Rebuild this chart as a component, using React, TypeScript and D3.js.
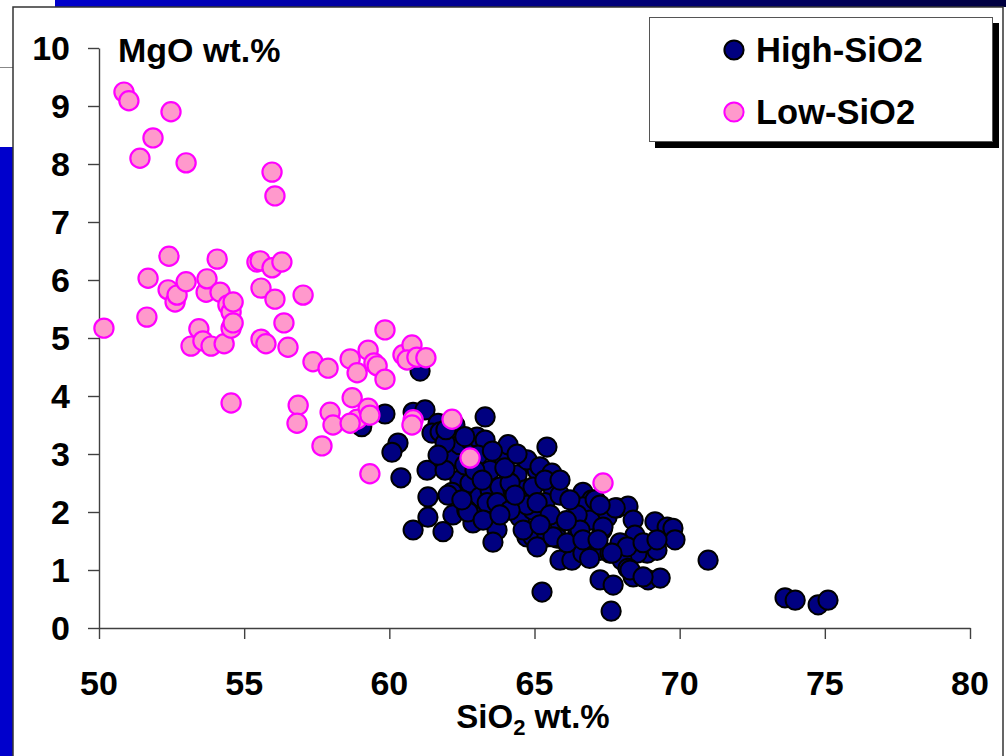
import React, { useEffect, useRef } from 'react';
import * as d3 from 'd3';

// SiO2 wt.%, MgO wt.%
const highSiO2: [number, number][] = [
  [59.05, 3.47], [61.06, 4.43], [59.85, 3.69], [60.82, 3.72], [61.23, 3.76], [61.68, 3.53], [61.47, 3.36],
  [61.75, 3.38], [63.3, 3.64], [60.3, 3.19], [60.09, 3.03], [60.4, 2.59], [61.3, 2.72], [62.16, 2.95],
  [62.43, 3.16], [62.78, 3.24], [63.02, 3.29], [63.3, 3.24], [63.88, 2.98], [63.47, 2.72], [64.75, 2.86],
  [65.09, 2.72], [64.4, 2.64], [64.09, 2.52], [62.43, 2.55], [62.78, 2.5], [62.16, 2.34], [62.02, 2.29],
  [61.33, 2.26], [63.12, 2.26], [63.47, 2.38], [63.81, 2.43], [61.33, 1.91], [62.19, 1.95], [62.67, 2.03],
  [63.12, 1.91], [60.82, 1.69], [61.85, 1.66], [62.88, 1.81], [63.71, 1.69], [63.57, 1.48], [64.26, 2.38],
  [64.61, 2.16], [64.5, 1.91], [64.95, 2.03], [64.74, 1.57], [65.02, 1.69],
  [65.43, 3.12], [64.74, 2.9], [65.19, 2.78], [65.6, 2.67], [64.68, 2.38], [65.64, 2.41], [65.36, 2.16],
  [64.74, 2.12], [66.67, 2.34], [66.98, 2.21], [65.88, 1.81], [66.5, 1.66], [66.67, 2.09], [64.95, 1.57],
  [65.43, 1.57], [65.78, 1.55], [65.09, 1.4], [65.88, 1.17], [66.29, 1.17], [66.67, 1.29], [67.33, 1.69],
  [67.5, 1.91], [67.84, 2.07], [68.22, 2.1], [67.26, 1.34], [67.6, 1.29], [68.4, 1.86], [68.46, 1.6],
  [69.15, 1.83], [69.57, 1.74], [69.77, 1.72], [69.84, 1.52], [68.88, 1.29], [69.22, 1.34], [68.53, 1.29],
  [67.95, 1.47], [68.02, 1.17], [68.22, 1.03], [68.4, 0.88], [68.91, 0.83], [69.33, 0.86], [67.26, 0.83],
  [67.71, 0.74], [65.26, 0.62], [67.64, 0.29], [66.91, 1.86], [67.36, 1.74], [70.98, 1.17], [73.63, 0.52],
  [73.98, 0.48], [74.77, 0.4], [75.11, 0.48],
  [64.16, 2.5], [64.95, 2.43], [67.09, 2.21], [67.78, 2.07], [62.71, 2.0], [63.37, 2.16], [63.71, 2.16],
  [64.16, 2.03], [65.09, 2.16], [66.47, 1.95], [63.23, 1.86], [64.61, 1.69], [65.64, 1.57], [66.12, 1.47],
  [66.57, 1.69], [66.67, 1.52], [67.19, 1.52], [68.19, 1.4], [68.74, 1.47], [69.22, 1.52], [67.67, 1.29],
  [68.29, 1.0], [68.74, 0.88],
  [62.26, 3.5], [61.92, 3.19], [62.6, 2.81], [63.05, 2.98], [64.09, 3.16], [63.98, 2.76], [64.33, 2.29],
  [65.36, 2.55], [65.88, 2.29], [66.22, 2.21], [65.54, 1.95], [65.19, 1.78], [63.81, 1.95], [62.5, 2.21],
  [62.95, 2.72], [61.92, 2.72], [61.68, 2.98], [65.88, 2.55], [67.26, 2.12],
  [61.95, 3.42], [62.6, 3.3], [63.55, 3.05], [64.4, 3.0], [63.2, 2.55], [66.1, 1.85], [66.9, 1.2],
];

const lowSiO2: [number, number][] = [
  [50.17, 5.17], [50.86, 9.24], [51.03, 9.09], [51.41, 8.1], [51.65, 5.36], [51.86, 8.45], [51.69, 6.03],
  [52.48, 8.9], [52.41, 6.41], [52.38, 5.83], [52.62, 5.62], [52.69, 5.74], [53.0, 8.02], [53.0, 5.97],
  [53.17, 4.86], [53.44, 5.16], [53.58, 4.95], [53.69, 5.79], [53.72, 6.02], [53.86, 4.86], [54.07, 6.36],
  [54.17, 5.79], [54.31, 4.9], [54.44, 5.57], [54.55, 5.45], [54.55, 5.17], [54.62, 5.62], [54.62, 5.26],
  [54.55, 3.88], [55.44, 6.31], [55.55, 6.33], [55.96, 6.21], [56.3, 6.31], [55.58, 5.86], [56.06, 5.67],
  [55.58, 4.98], [55.75, 4.9], [56.37, 5.26], [56.51, 4.84], [55.96, 7.86], [56.06, 7.45], [57.03, 5.74],
  [59.85, 5.14], [57.37, 4.59], [57.89, 4.48], [58.65, 4.64], [58.89, 4.4], [59.27, 4.79], [59.47, 4.57],
  [59.58, 4.52], [59.85, 4.29], [60.47, 4.71], [60.78, 4.88], [60.61, 4.62], [60.95, 4.67], [61.26, 4.66],
  [56.86, 3.84], [56.82, 3.53], [57.96, 3.72], [58.06, 3.5], [57.68, 3.14], [58.72, 3.97], [58.89, 3.6],
  [59.27, 3.79], [59.33, 3.67], [58.65, 3.53], [59.33, 2.66], [60.82, 3.59], [60.78, 3.5], [62.16, 3.6],
  [62.78, 2.93], [67.36, 2.5],
];

const xTicks = [50, 55, 60, 65, 70, 75, 80];
const yTicks = [0, 1, 2, 3, 4, 5, 6, 7, 8, 9, 10];
const legendItems = ['High-SiO2', 'Low-SiO2'];

const font = 'Arial, "Liberation Sans", Helvetica, sans-serif';

const App: React.FC = () => {
  const svgRef = useRef<SVGSVGElement | null>(null);

  useEffect(() => {
    const svg = d3.select(svgRef.current);
    svg.selectAll('*').remove();

    const x = d3.scaleLinear().domain([50, 80]).range([99, 970]);
    const y = d3.scaleLinear().domain([0, 10]).range([628, 48]);

    // slide-ish backdrop
    const defs = svg.append('defs');
    const grad = defs.append('linearGradient').attr('id', 'topband');
    grad.append('stop').attr('offset', '0%').attr('stop-color', '#0000cc');
    grad.append('stop').attr('offset', '100%').attr('stop-color', '#000040');

    svg.append('rect').attr('width', 1006).attr('height', 756).attr('fill', 'white');
    svg.append('rect').attr('x', 55).attr('y', 0).attr('width', 951).attr('height', 7).attr('fill', 'url(#topband)');
    svg.append('rect').attr('x', 0).attr('y', 147).attr('width', 13).attr('height', 609).attr('fill', '#0000cc');
    svg.append('line').attr('x1', 0).attr('x2', 13).attr('y1', 67.5).attr('y2', 67.5).attr('stroke', '#888');
    svg.append('path')
      .attr('d', 'M13,760 L13,7 L1003,7 L1003,760')
      .attr('fill', 'none')
      .attr('stroke', '#333')
      .attr('stroke-width', 1.5);

    // axes
    const yAxis = svg.append('g')
      .attr('transform', `translate(${x(50)},0)`)
      .call(d3.axisLeft(y).tickValues(yTicks).tickSize(11).tickSizeOuter(0).tickFormat(() => ''));
    const xAxis = svg.append('g')
      .attr('transform', `translate(0,${y(0)})`)
      .call(d3.axisBottom(x).tickValues(xTicks).tickSize(11).tickSizeOuter(0).tickFormat(() => ''));
    [yAxis, xAxis].forEach(g => {
      g.select('.domain').attr('stroke', '#404040').attr('stroke-width', 1.4);
      g.selectAll('.tick line').attr('stroke', '#404040').attr('stroke-width', 1.4);
    });

    svg.append('g').selectAll('text')
      .data(yTicks)
      .enter()
      .append('text')
      .attr('x', 70)
      .attr('y', d => y(d))
      .attr('dy', '0.36em')
      .attr('text-anchor', 'end')
      .attr('font-family', font)
      .attr('font-weight', 'bold')
      .attr('font-size', 34)
      .text(d => d);

    svg.append('g').selectAll('text')
      .data(xTicks)
      .enter()
      .append('text')
      .attr('x', d => x(d))
      .attr('y', 695)
      .attr('text-anchor', 'middle')
      .attr('font-family', font)
      .attr('font-weight', 'bold')
      .attr('font-size', 34)
      .text(d => d);

    svg.append('text')
      .attr('x', 118)
      .attr('y', 62)
      .attr('font-family', font)
      .attr('font-weight', 'bold')
      .attr('font-size', 34)
      .text('MgO wt.%');

    const xt = svg.append('text')
      .attr('x', 533)
      .attr('y', 728)
      .attr('text-anchor', 'middle')
      .attr('font-family', font)
      .attr('font-weight', 'bold')
      .attr('font-size', 33);
    xt.append('tspan').text('SiO');
    xt.append('tspan').attr('font-size', 22).attr('dy', 7).text('2');
    xt.append('tspan').attr('dy', -7).text(' wt.%');

    // points
    svg.append('g').selectAll('circle')
      .data(highSiO2)
      .enter()
      .append('circle')
      .attr('cx', d => x(d[0]))
      .attr('cy', d => y(d[1]))
      .attr('r', 9.6)
      .attr('fill', '#000080')
      .attr('stroke', 'black')
      .attr('stroke-width', 2);

    svg.append('g').selectAll('circle')
      .data(lowSiO2)
      .enter()
      .append('circle')
      .attr('cx', d => x(d[0]))
      .attr('cy', d => y(d[1]))
      .attr('r', 9.6)
      .attr('fill', '#ff99cc')
      .attr('stroke', '#ff00ff')
      .attr('stroke-width', 2.2);

    // legend
    const lg = svg.append('g');
    lg.append('rect').attr('x', 655).attr('y', 23).attr('width', 344).attr('height', 125).attr('fill', 'black');
    lg.append('rect').attr('x', 649.5).attr('y', 17.5).attr('width', 343).attr('height', 124)
      .attr('fill', 'white').attr('stroke', '#555').attr('stroke-width', 1);
    legendItems.forEach((name, i) => {
      const cy = 50 + i * 62;
      lg.append('circle')
        .attr('cx', 734)
        .attr('cy', cy)
        .attr('r', 9.6)
        .attr('fill', i === 0 ? '#000080' : '#ff99cc')
        .attr('stroke', i === 0 ? 'black' : '#ff00ff')
        .attr('stroke-width', 2);
      lg.append('text')
        .attr('x', 756)
        .attr('y', cy + 12)
        .attr('font-family', font)
        .attr('font-weight', 'bold')
        .attr('font-size', 34.5)
        .text(name);
    });
  }, []);

  return (
    <div style={{ position: 'absolute', left: 0, top: 0 }}>
      <svg ref={svgRef} width={1006} height={756} style={{ display: 'block' }}></svg>
    </div>
  );
};

export default App;
